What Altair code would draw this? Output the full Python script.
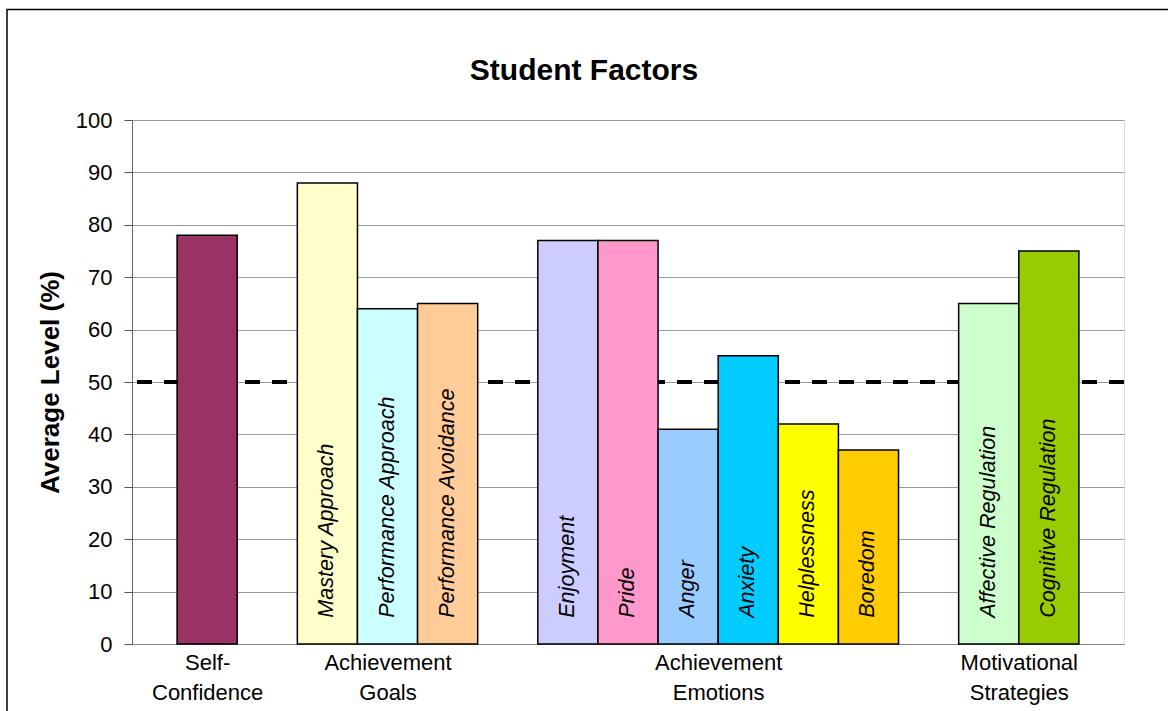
import altair as alt
import pandas as pd

# Factor groups and their two-line axis captions
groups = ["Self-Confidence", "Achievement Goals", "Achievement Emotions", "Motivational Strategies"]
group_lines = [["Self-", "Confidence"], ["Achievement", "Goals"],
               ["Achievement", "Emotions"], ["Motivational", "Strategies"]]

# One entry per bar
factors = ["Self-Confidence", "Mastery Approach", "Performance Approach", "Performance Avoidance",
           "Enjoyment", "Pride", "Anger", "Anxiety", "Helplessness", "Boredom",
           "Affective Regulation", "Cognitive Regulation"]
factor_group = [0, 1, 1, 1, 2, 2, 2, 2, 2, 2, 3, 3]
bar_labels = ["", "Mastery Approach", "Performance Approach", "Performance Avoidance",
              "Enjoyment", "Pride", "Anger", "Anxiety", "Helplessness", "Boredom",
              "Affective Regulation", "Cognitive Regulation"]
values = [78, 88, 64, 65, 77, 77, 41, 55, 42, 37, 65, 75]
colors = ["#993366", "#FFFFCC", "#CCFFFF", "#FFCC99", "#CCCCFF", "#FF99CC",
          "#99CCFF", "#00CCFF", "#FFFF00", "#FFCC00", "#CCFFCC", "#99CC00"]

chart_title = "Student Factors"
reference_level = 50
label_base = 5

# Slot layout: bars one unit wide, one empty slot between groups, margin at both ends
EDGE = 0.75
starts = []
pos = EDGE
prev = None
for g in factor_group:
    if prev is not None and g != prev:
        pos += 1
    starts.append(pos)
    pos += 1
    prev = g
x_max = pos + EDGE

group_centers = []
for gi in range(len(groups)):
    s = [starts[i] for i, g in enumerate(factor_group) if g == gi]
    group_centers.append((min(s) + max(s) + 1) / 2)

df = pd.DataFrame({
    "factor": factors,
    "label": bar_labels,
    "value": values,
    "color": colors,
    "x0": starts,
    "x1": [s + 1 for s in starts],
    "xc": [s + 0.5 for s in starts],
    "base": [label_base] * len(factors),
})

# Axis caption lookup: tick value -> two-line caption
label_expr = ""
for c, lines in zip(group_centers, group_lines):
    arr = "[" + ",".join("'" + l + "'" for l in lines) + "]"
    label_expr += f"datum.value == {c} ? {arr} : "
label_expr += "''"

FONT = "Liberation Sans"
W, H = 992, 524
PAD_L, PAD_T, PAD_R, PAD_B = 132, 120, 44, 67

x_scale = alt.Scale(domain=[0, x_max], nice=False, zero=False)
y_scale = alt.Scale(domain=[0, 100], nice=False)

x_axis = alt.Axis(values=group_centers, labelExpr=label_expr, title=None, grid=False,
                  ticks=False, domainColor="#888888", labelFontSize=22, labelFont=FONT,
                  labelColor="black", labelLineHeight=30, labelPadding=8,
                  labelOverlap=False, labelFlush=False, labelBound=False)
y_axis = alt.Axis(values=list(range(0, 101, 10)), title="Average Level (%)",
                  titleFontSize=26, titleFont=FONT, titleFontWeight="bold", titleColor="black",
                  titlePadding=12, labelFontSize=22, labelFont=FONT, labelColor="black",
                  labelPadding=12, tickSize=8, tickColor="#555555", domainColor="#666666",
                  gridColor="#999999", gridWidth=1)

base = alt.Chart(df)

bars = base.mark_bar(stroke="black", strokeWidth=1.5).encode(
    x=alt.X("x0:Q", scale=x_scale, axis=x_axis),
    x2="x1:Q",
    y=alt.Y("value:Q", scale=y_scale, axis=y_axis),
    y2=alt.datum(0),
    color=alt.Color("color:N", scale=None),
)

ref_line = alt.Chart(pd.DataFrame({"level": [reference_level]})).mark_rule(
    color="black", strokeWidth=4, strokeDash=[15, 12]
).encode(y=alt.Y("level:Q", scale=y_scale))

texts = base.mark_text(angle=270, align="left", baseline="middle", font=FONT,
                       fontStyle="italic", fontSize=21.6, color="black").encode(
    x=alt.X("xc:Q", scale=x_scale),
    y=alt.Y("base:Q", scale=y_scale),
    text="label:N",
)

# Chart heading, centred on the full canvas width
heading = alt.Chart(pd.DataFrame({"t": [chart_title]})).mark_text(
    font=FONT, fontSize=30, fontWeight="bold", color="black",
    align="center", baseline="alphabetic"
).encode(x=alt.value((PAD_L + W + PAD_R) / 2 - PAD_L), y=alt.value(-40), text="t:N")

# Outer chart border
frame = alt.Chart(pd.DataFrame({"k": [0]})).mark_rect(
    filled=False, stroke="black", strokeWidth=1.5
).encode(x=alt.value(7 - PAD_L), x2=alt.value(W + PAD_R + 20),
         y=alt.value(9.5 - PAD_T), y2=alt.value(H + PAD_B + 20))

chart = alt.layer(ref_line, bars, texts, heading, frame).properties(
    width=W, height=H,
    autosize=alt.AutoSizeParams(type="none"),
    padding={"left": PAD_L, "top": PAD_T, "right": PAD_R, "bottom": PAD_B},
).configure_view(stroke="#999999", strokeWidth=1).configure(background="white")

chart.save("out.html", embed_options={"renderer": "svg", "actions": False})
